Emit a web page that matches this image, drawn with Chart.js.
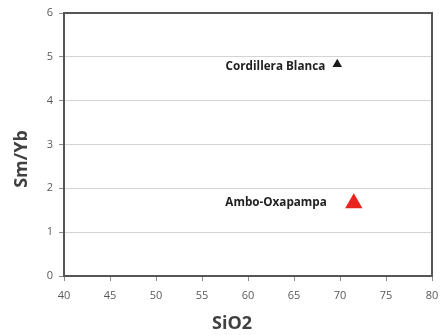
<!DOCTYPE html>
<html>
<head>
<meta charset="utf-8">
<script src="https://cdn.jsdelivr.net/npm/chart.js@4/dist/chart.umd.min.js"></script>
<style>
  html, body { margin: 0; padding: 0; background: #fff; }
  #wrap { width: 442px; height: 335px; position: relative; }
</style>
</head>
<body>
<div id="wrap"><canvas id="sm-yb-chart-id"></canvas></div>
<script>
// data
const groupNames = ['Cordillera Blanca', 'Ambo-Oxapampa'];
const sio2Values = [69.7, 71.5];
const smYbValues = [4.83, 1.66];
const xTicks = [40, 45, 50, 55, 60, 65, 70, 75, 80];
const yTicks = [0, 1, 2, 3, 4, 5, 6];

const pointColors = ['#1a1a1a', '#e8231f'];
const pointSizes = [5.5, 10];
const labelGaps = [12, 27]; // distance from point centre to label end

// labels next to each point + frame + axis titles
const annotatePlugin = {
  id: 'annotate',
  afterDatasetsDraw(chart) {
    const { ctx, chartArea, scales } = chart;
    ctx.save();
    // frame round the plot
    ctx.strokeStyle = '#555';
    ctx.lineWidth = 2;
    ctx.strokeRect(chartArea.left, chartArea.top, chartArea.right - chartArea.left, chartArea.bottom - chartArea.top);

    // point labels
    ctx.fillStyle = '#222';
    ctx.font = 'bold 11.7px "Open Sans"';
    ctx.textAlign = 'right';
    ctx.textBaseline = 'middle';
    groupNames.forEach((name, i) => {
      const px = scales.x.getPixelForValue(sio2Values[i]);
      const py = scales.y.getPixelForValue(smYbValues[i]);
      ctx.fillText(name, px - labelGaps[i], py - (i === 0 ? -2 : 1));
    });

    // axis titles
    ctx.fillStyle = '#404040';
    ctx.font = 'bold 18px "Open Sans"';
    ctx.textAlign = 'center';
    ctx.fillText('SiO2', 232, 324);
    ctx.translate(22, 159);
    ctx.rotate(-Math.PI / 2);
    ctx.fillText('Sm/Yb', 0, 0);
    ctx.restore();
  }
};

const ctx = document.getElementById('sm-yb-chart-id');
new Chart(ctx, {
  type: 'scatter',
  data: {
    datasets: groupNames.map((name, i) => ({
      label: name,
      data: [{ x: sio2Values[i], y: smYbValues[i] }],
      pointStyle: 'triangle',
      pointRadius: pointSizes[i],
      pointHoverRadius: pointSizes[i],
      backgroundColor: pointColors[i],
      borderColor: pointColors[i],
      borderWidth: 0
    }))
  },
  options: {
    responsive: true,
    maintainAspectRatio: false,
    animation: false,
    layout: { padding: { top: 13, right: 4, left: 0, bottom: 0 } },
    plugins: {
      legend: { display: false },
      tooltip: { enabled: false }
    },
    scales: {
      x: {
        type: 'linear',
        min: 40,
        max: 80,
        afterBuildTicks: axis => { axis.ticks = xTicks.map(v => ({ value: v })); },
        afterFit: axis => { axis.height = 59; axis.paddingRight = 4; },
        ticks: {
          color: '#595959',
          font: { family: '"Open Sans"', size: 11 },
          padding: 8
        },
        grid: {
          drawOnChartArea: false,
          drawTicks: true,
          tickLength: 5,
          color: '#8c8c8c'
        },
        border: { color: '#555', width: 2 }
      },
      y: {
        type: 'linear',
        min: 0,
        max: 6,
        afterBuildTicks: axis => { axis.ticks = yTicks.map(v => ({ value: v })); },
        afterFit: axis => { axis.width = 64; },
        ticks: {
          color: '#595959',
          font: { family: '"Open Sans"', size: 11 },
          padding: 6
        },
        grid: {
          color: '#d4d4d4',
          tickLength: 5,
          tickColor: '#8c8c8c'
        },
        border: { color: '#555', width: 2 }
      }
    }
  },
  plugins: [annotatePlugin]
});
</script>
</body>
</html>
